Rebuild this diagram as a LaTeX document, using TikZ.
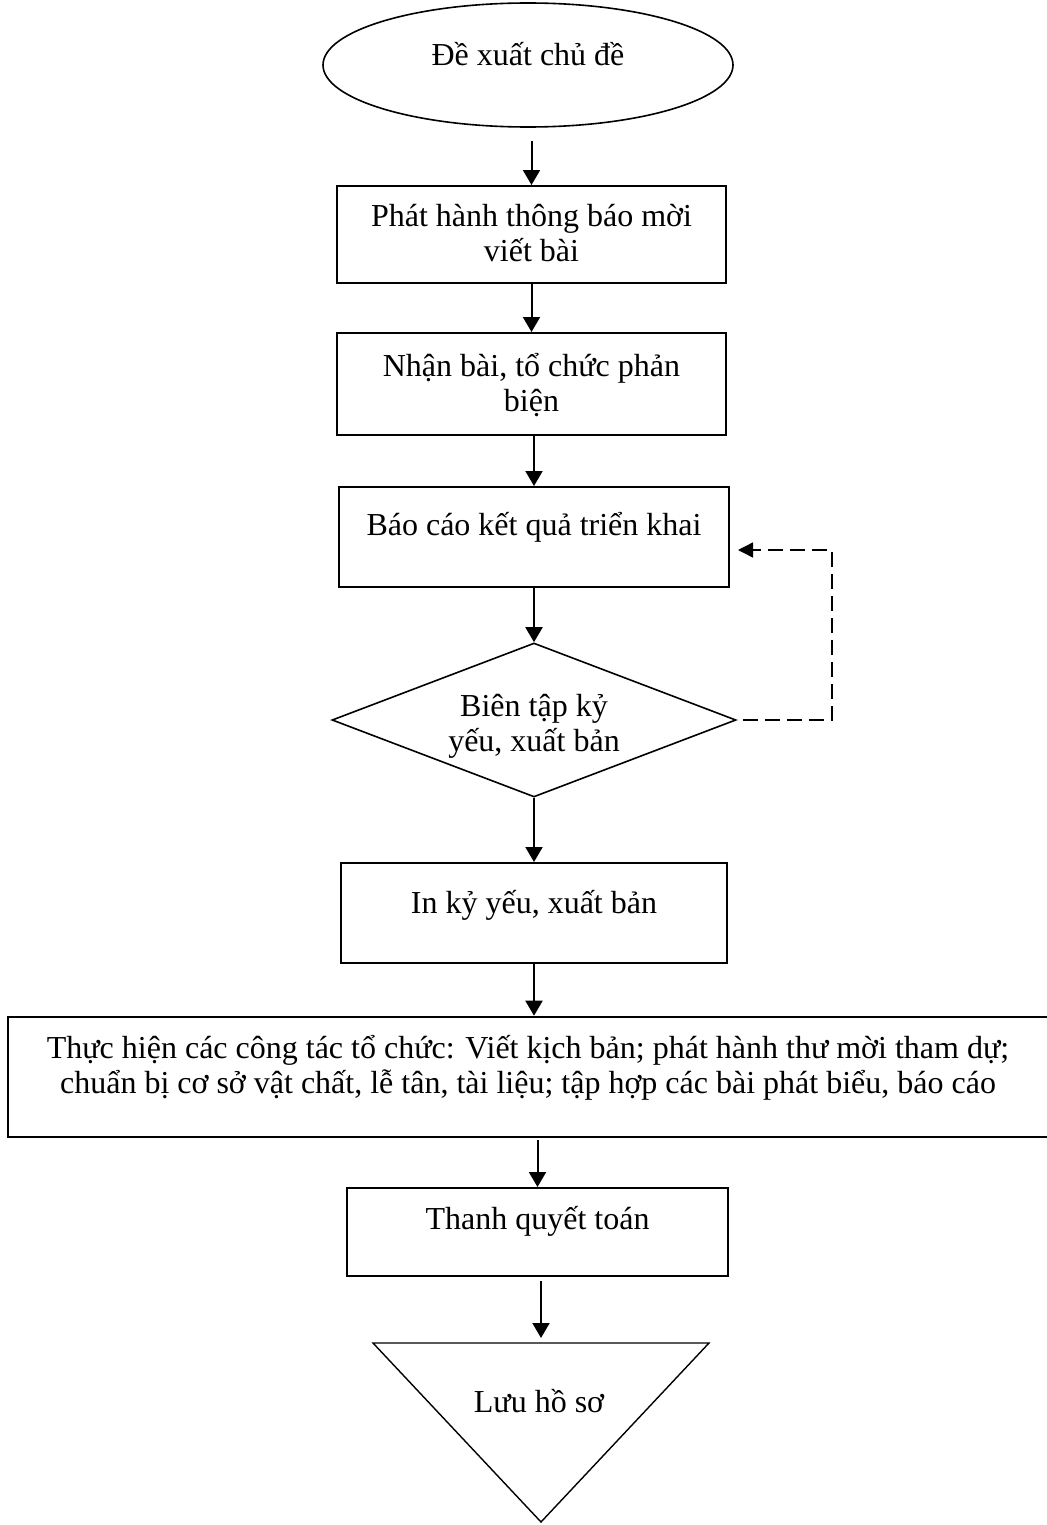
\documentclass[tikz,border=0pt]{standalone}
\usepackage{fontspec}
\setmainfont{Liberation Serif}
\usetikzlibrary{shapes.geometric,arrows.meta}
\begin{document}
\begin{tikzpicture}[x=0.5pt,y=-0.5pt,
  every node/.style={font=\fontsize{16pt}{17.5pt}\selectfont},
  box/.style={draw, line width=1pt, rectangle, inner sep=0pt, align=center, text height=12pt},
  arr/.style={line width=1pt, -{Triangle[width=8.5pt,length=7.5pt]}},
  loopline/.style={line width=0.7pt, dash pattern=on 7.5pt off 3.5pt, -{Triangle[width=7.5pt,length=7.5pt]}}]
\useasboundingbox (0,0) rectangle (1046,1525);

\node[draw, ellipse, line width=0.8pt, inner sep=0pt, minimum width=205pt, minimum height=62pt,
      align=center, text height=12pt, text depth=11pt] (start) at (528,65) {Đề xuất chủ đề};

\node[box, minimum width=194.5pt, minimum height=48.5pt, text height=30pt, text depth=2.8pt] (call) at (531.5,234.5)
  {Phát hành thông báo mời\\viết bài};

\node[box, minimum width=194.5pt, minimum height=51pt, text height=30pt, text depth=3pt] (review) at (531.5,384)
  {Nhận bài, tổ chức phản\\biện};

\node[box, minimum width=195pt, minimum height=50pt, text depth=14pt] (report) at (534,537)
  {Báo cáo kết quả triển khai};

\node[draw, diamond, line width=0.8pt, inner sep=0pt, aspect=2.62, minimum width=202pt, minimum height=77pt,
      align=center, text height=32pt, text depth=1pt] (edit) at (534,720)
  {Biên tập kỷ\\yếu, xuất bản};

\node[box, minimum width=193pt, minimum height=50pt, text depth=12pt] (print) at (534,913)
  {In kỷ yếu, xuất bản};

\node[box, line width=1.3pt, minimum width=520pt, minimum height=60pt, text height=30pt, text depth=14pt] (org) at (528,1077)
  {Thực hiện các công tác tổ chức: Viết kịch bản; phát hành thư mời tham dự;\\
   chuẩn bị cơ sở vật chất, lễ tân, tài liệu; tập hợp các bài phát biểu, báo cáo};

\node[box, minimum width=190.5pt, minimum height=44pt, text depth=15pt] (settle) at (537.5,1232)
  {Thanh quyết toán};

\coordinate (tl) at (373,1343);
\coordinate (tr) at (709,1343);
\coordinate (tb) at (541,1522);
\coordinate (ttop) at (541,1343);
\draw[line width=0.7pt] (tl) -- (tr) -- (tb) -- cycle;
\node[anchor=base] (store) at (539,1412) {Lưu hồ sơ};

\draw[arr, shorten <=6.5pt] (call.north |- start.south) -- (call.north);
\draw[arr] (call.south) -- (review.north);
\draw[arr] (report.north |- review.south) -- (report.north);
\draw[arr] (report.south) -- (edit.north);
\draw[arr] (edit.south) -- (print.north);
\draw[arr] (print.south) -- (print.south |- org.north);
\draw[arr, shorten <=1pt] (settle.north |- org.south) -- (settle.north);
\draw[arr, shorten <=2pt, shorten >=2.5pt] (ttop |- settle.south) -- (ttop);

\coordinate (loopx) at (832,550);
\draw[loopline, shorten <=3pt, shorten >=4pt] (edit.east) -| (loopx) -- (report.east |- loopx);
\end{tikzpicture}
\end{document}
